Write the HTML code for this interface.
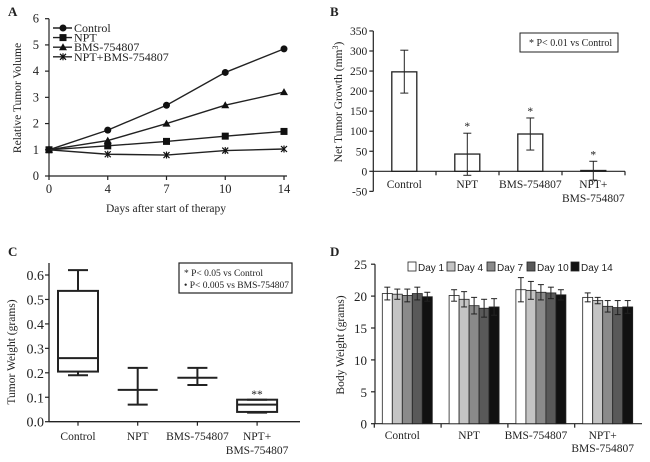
<!DOCTYPE html>
<html><head><meta charset="utf-8"><style>
body{margin:0;background:#fff}
svg{display:block}
text{font-family:"Liberation Serif",serif;font-size:11.5px;fill:#222}
.s{font-family:"Liberation Sans",sans-serif}
.b{font-weight:bold;font-size:13px}
</style></head><body>
<svg id="c" width="650" height="462" xmlns="http://www.w3.org/2000/svg"></svg>
<script>
// Panel A data
const daysA=["0","4","7","10","14"];
const seriesNamesA=["Control","NPT","BMS-754807","NPT+BMS-754807"];
const controlA=[1,1.75,2.7,3.95,4.85];
const nptA=[1,1.15,1.32,1.52,1.7];
const bmsA=[1,1.35,2.0,2.7,3.2];
const comboA=[1,0.83,0.8,0.97,1.03];
const ticksA=[0,1,2,3,4,5,6];
// Panel B data
const catsB=["Control","NPT","BMS-754807","NPT+|BMS-754807"];
const valsB=[248,43,93,2];
const lowB=[195,-10,53,-22];
const highB=[302,95,133,25];
const ticksB=[-50,0,50,100,150,200,250,300,350];
// Panel C data
const catsC=["Control","NPT","BMS-754807","NPT+|BMS-754807"];
const minC=[0.19,0.07,0.15,0.037];
const q1C=[0.205,null,null,0.04];
const medC=[0.26,0.13,0.18,0.07];
const q3C=[0.535,null,null,0.09];
const maxC=[0.62,0.22,0.22,0.09];
const ticksC=[0,0.1,0.2,0.3,0.4,0.5,0.6];
// Panel D data
const catsD=["Control","NPT","BMS-754807","NPT+|BMS-754807"];
const daysD=["Day 1","Day 4","Day 7","Day 10","Day 14"];
const valsD=[[20.4,20.3,20.1,20.4,19.9],[20.1,19.5,18.5,18.1,18.3],[21,20.9,20.6,20.5,20.2],[19.8,19.3,18.4,18.2,18.3]];
const errD=[[1,0.8,1,1,0.7],[0.9,1.2,1.3,1.4,1.3],[1.9,1.4,1.2,0.9,0.8],[0.7,0.5,0.9,1.1,1]];
const ticksD=[0,5,10,15,20,25];

const svg=document.getElementById('c');
const NS="http://www.w3.org/2000/svg";
function mk(tag,at,parent){const e=document.createElementNS(NS,tag);for(const k in at)e.setAttribute(k,at[k]);(parent||svg).appendChild(e);return e;}
function tx(x,y,s,anchor,cls){const e=mk('text',{x:x,y:y,'text-anchor':anchor||'start'});if(cls)e.setAttribute('class',cls);e.textContent=s;return e;}
function ln(x1,y1,x2,y2,w){return mk('line',{x1:x1,y1:y1,x2:x2,y2:y2,stroke:'#222','stroke-width':w||1.2});}
function lab2(x,y,s){const p=s.split('|');p.forEach((t,i)=>{const e=tx(x,y+i*14,t,'middle');});}

// ---------- Panel A ----------
let e=tx(8,16,"A",'start','b');
const ax0=49,ax1=284,ay0=176,ay6=18.7;
const yA=v=>ay0-(v/6)*(ay0-ay6);
const xA=i=>ax0+i*(ax1-ax0)/(daysA.length-1);
ln(ax0,ay6,ax0,ay0);ln(ax0,ay0,ax1+3,ay0);
ticksA.forEach(t=>{ln(ax0-4,yA(t),ax0,yA(t));const l=tx(ax0-10,yA(t)+4,String(t),'end');l.setAttribute('style','font-size:12.5px');});
daysA.forEach((d,i)=>{ln(xA(i),ay0,xA(i),ay0+4);const l=tx(xA(i),ay0+17,d,'middle');l.setAttribute('style','font-size:12.5px');});
e=tx(166,212,"Days after start of therapy",'middle');
e=tx(0,0,"Relative Tumor Volume",'middle');e.setAttribute('transform','translate(21,98) rotate(-90)');
function marker(kind,x,y){
 if(kind==0)return mk('circle',{cx:x,cy:y,r:3.5,fill:'#111'});
 if(kind==1)return mk('rect',{x:x-3.5,y:y-3.5,width:7,height:7,fill:'#111'});
 if(kind==2)return mk('polygon',{points:`${x},${y-4} ${x+4},${y+3} ${x-4},${y+3}`,fill:'#111'});
 const g=mk('g',{stroke:'#111','stroke-width':1.2});mk('line',{x1:x-3,y1:y-3,x2:x+3,y2:y+3},g);mk('line',{x1:x-3,y1:y+3,x2:x+3,y2:y-3},g);mk('line',{x1:x,y1:y-3.5,x2:x,y2:y+3.5},g);return g;}
[controlA,nptA,bmsA,comboA].forEach((s,k)=>{
 const p=mk('polyline',{points:s.map((v,i)=>xA(i)+','+yA(v)).join(' '),fill:'none',stroke:'#222','stroke-width':1.4});
 
 s.forEach((v,i)=>{const m=marker(k,xA(i),yA(v));});
 const ly=28+k*9.6;ln(53,ly,72,ly,1.4);marker(k,63,ly);
 const l=tx(74,ly+4,seriesNamesA[k]);l.setAttribute('style','font-size:12px');
});

// ---------- Panel B ----------
e=tx(330,16,"B",'start','b');
const bx0=373.3,by0=171.3,bper=20.05/50;
const yB=v=>by0-v*bper;
const xB=i=>404.3+i*63;
ln(bx0,yB(350),bx0,yB(-50));ln(bx0,by0,625,by0);
ticksB.forEach(t=>{ln(bx0-4,yB(t),bx0,yB(t));const l=tx(bx0-6,yB(t)+4,String(t),'end');});
[436,499,562,625].forEach(x=>ln(x,by0,x,by0+4));
catsB.forEach((c,i)=>{
 const x=xB(i),v=valsB[i];
 const r=mk('rect',{x:x-12.5,y:Math.min(yB(v),by0),width:25,height:Math.abs(by0-yB(v)),fill:'#fff',stroke:'#222','stroke-width':1.3});
 
 const g=mk('g',{});
 ln(x,yB(lowB[i]),x,yB(highB[i]),1);ln(x-4,yB(lowB[i]),x+4,yB(lowB[i]),1);ln(x-4,yB(highB[i]),x+4,yB(highB[i]),1);
 if(i>0){const s=tx(x,yB(highB[i])-3,"*",'middle');}
 lab2(x,188,c);
});
mk('rect',{x:520,y:33,width:98,height:19,fill:'#fff',stroke:'#222','stroke-width':1});
e=tx(529,46,"* P< 0.01 vs Control");e.setAttribute('style','font-size:10px');
e=mk('text',{x:0,y:0,'text-anchor':'middle',transform:'translate(342,102) rotate(-90)'});e.innerHTML='Net Tumor Growth (mm<tspan dy="-4" style="font-size:8px">3</tspan><tspan dy="4">)</tspan>';

// ---------- Panel C ----------
e=tx(8,256,"C",'start','b');
const cx0=49,cy0=421.7,cper=24.45/0.1;
const yC=v=>cy0-v*cper;
const xC=i=>78+i*59.7;
ln(cx0,263,cx0,cy0,1.3);ln(cx0,cy0,300,cy0,1.3);
ticksC.forEach(t=>{ln(cx0-4,yC(t),cx0,yC(t));const l=tx(cx0-5,yC(t)+5,t.toFixed(1),'end');l.setAttribute('style','font-size:14px');});
catsC.forEach((c,i)=>{
 const x=xC(i),g=mk('g',{stroke:'#222','stroke-width':2,fill:'none'});
 
 const hw=20,cw=10;
 if(q1C[i]!==null){
  mk('rect',{x:x-hw,y:yC(q3C[i]),width:2*hw,height:yC(q1C[i])-yC(q3C[i]),fill:'#fff'},g);
  mk('line',{x1:x,y1:yC(maxC[i]),x2:x,y2:yC(q3C[i])},g);mk('line',{x1:x,y1:yC(q1C[i]),x2:x,y2:yC(minC[i])},g);
  mk('line',{x1:x-hw,y1:yC(medC[i]),x2:x+hw,y2:yC(medC[i])},g);
 } else {
  mk('line',{x1:x,y1:yC(maxC[i]),x2:x,y2:yC(minC[i])},g);
  mk('line',{x1:x-hw,y1:yC(medC[i]),x2:x+hw,y2:yC(medC[i])},g);
 }
 mk('line',{x1:x-cw,y1:yC(maxC[i]),x2:x+cw,y2:yC(maxC[i])},g);mk('line',{x1:x-cw,y1:yC(minC[i]),x2:x+cw,y2:yC(minC[i])},g);
 ln(x,cy0,x,cy0+4);
 lab2(x,440,c);
});
e=tx(257,398,"**",'middle');
mk('rect',{x:179,y:263,width:113,height:30,fill:'#fff',stroke:'#222','stroke-width':1.2});
e=tx(184,276,"* P< 0.05 vs Control");e.setAttribute('style','font-size:9.5px');
e=tx(184,288,"• P< 0.005 vs BMS-754807");e.setAttribute('style','font-size:9.5px');
e=tx(0,0,"Tumor Weight (grams)",'middle');e.setAttribute('transform','translate(15,352) rotate(-90)');

// ---------- Panel D ----------
e=tx(330,256,"D",'start','b');
const dx0=375,dy0=423.7,dper=31.9/5;
const yD=v=>dy0-v*dper;
const xD=(g,k)=>382.3+g*66.8+k*10;
const colD=["#ffffff","#c4c4c4","#8a8a8a","#595959","#111111"];
ln(dx0,yD(25),dx0,dy0);ln(dx0,dy0,642,dy0);
ticksD.forEach(t=>{ln(dx0-4,yD(t),dx0,yD(t));const l=tx(dx0-8,yD(t)+5,String(t),'end');l.setAttribute('style','font-size:13px');});
catsD.forEach((c,g)=>{
 valsD[g].forEach((v,k)=>{
  const x=xD(g,k);
  const r=mk('rect',{x:x,y:yD(v),width:10,height:dy0-yD(v),fill:colD[k],stroke:'#222','stroke-width':0.8});
  
  const cx=x+5,t=yD(v+errD[g][k]),b=yD(v-errD[g][k]);
  ln(cx,t,cx,b,1);ln(cx-3,t,cx+3,t,1);ln(cx-3,b,cx+3,b,1);
 });
 ln(xD(g,0)-8,dy0,xD(g,0)-8,dy0+4);
 const l2=c.split('|');l2.forEach((t,i)=>{const l=tx(xD(g,2),439+i*13,t,'middle');});
});
const legX=[408,447,487,527,571];
daysD.forEach((d,k)=>{
 mk('rect',{x:legX[k],y:262,width:8,height:9,fill:colD[k],stroke:'#222','stroke-width':0.8});
 const l=tx(legX[k]+10,271,d,'start','s');l.setAttribute('style','font-size:10px');
});
e=tx(0,0,"Body Weight (grams)",'middle');e.setAttribute('transform','translate(344,345) rotate(-90)');
</script>
</body></html>
